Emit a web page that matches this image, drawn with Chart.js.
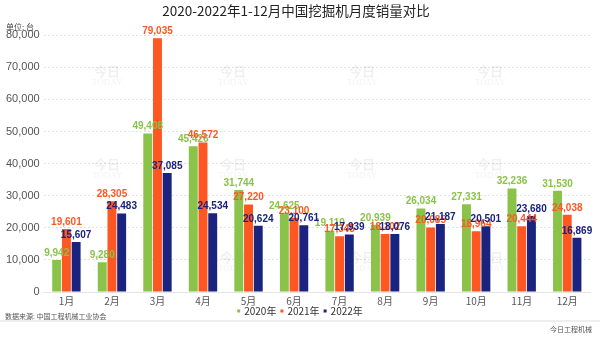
<!DOCTYPE html>
<html>
<head>
<meta charset="utf-8">
<script src="https://cdn.jsdelivr.net/npm/chart.js@4/dist/chart.umd.min.js"></script>
<style>
  html, body { margin: 0; padding: 0; background: #fff; }
  #wrap { width: 600px; height: 339px; position: relative; }
</style>
</head>
<body>
<div id="wrap"><canvas id="myChart" width="600" height="339"></canvas></div>
<script>
const months = ["1月", "2月", "3月", "4月", "5月", "6月", "7月", "8月", "9月", "10月", "11月", "12月"];
const sales2020 = [9942, 9280, 49408, 45426, 31744, 24625, 19110, 20939, 26034, 27331, 32236, 31530];
const sales2021 = [19601, 28305, 79035, 46572, 27220, 23100, 17345, 18102, 20085, 18964, 20444, 24038];
const sales2022 = [15607, 24483, 37085, 24534, 20624, 20761, 17939, 18076, 21187, 20501, 23680, 16869];
const yTicks = [0, 10000, 20000, 30000, 40000, 50000, 60000, 70000, 80000];

const FONT = "'Noto Sans CJK SC', 'Noto Sans', sans-serif";
const NARROW = "'Liberation Sans Narrow', 'Liberation Sans', sans-serif";

// value labels above each bar
const barLabels = {
  id: "barLabels",
  afterDatasetsDraw(chart) {
    const ctx = chart.ctx;
    ctx.save();
    ctx.font = "bold 10px " + NARROW;
    ctx.textAlign = "center";
    ctx.textBaseline = "bottom";
    chart.data.datasets.forEach((ds, i) => {
      chart.getDatasetMeta(i).data.forEach((bar, j) => {
        ctx.fillStyle = ds.backgroundColor;
        ctx.fillText(ds.data[j].toLocaleString("en-US"), bar.x, bar.y - 2);
      });
    });
    ctx.restore();
  }
};

// legend, unit, footer, faint watermarks
const extras = {
  id: "extras",
  beforeDatasetsDraw(chart) {
    const ctx = chart.ctx;
    ctx.save();
    ctx.fillStyle = "rgba(0,0,0,0.06)";
    ctx.textAlign = "left";
    ctx.textBaseline = "top";
    [92, 218, 347, 475].forEach(x => {
      [65, 158, 251].forEach(y => {
        ctx.font = "bold 13px " + FONT;
        ctx.fillText("今日", x + 2, y);
        ctx.font = "9px 'Liberation Serif', serif";
        ctx.fillText("TODAY", x, y + 13);
      });
    });
    ctx.restore();
  },
  afterDraw(chart) {
    const ctx = chart.ctx;
    ctx.save();
    // legend
    ctx.font = "10px " + FONT;
    ctx.textBaseline = "middle";
    ctx.textAlign = "left";
    const sets = chart.data.datasets;
    const widths = sets.map(ds => 7 + ctx.measureText(ds.label).width);
    const gap = 4;
    let x = 300 - (widths.reduce((a, b) => a + b, 0) + gap * (sets.length - 1)) / 2;
    sets.forEach((ds, i) => {
      ctx.fillStyle = ds.backgroundColor;
      ctx.fillRect(x, 309.5, 3, 3);
      ctx.fillStyle = "#333";
      ctx.fillText(ds.label, x + 7, 311);
      x += widths[i] + gap;
    });
    // unit + footer
    ctx.fillStyle = "#444";
    ctx.font = "8px " + FONT;
    ctx.fillText("单位: 台", 6, 27);
    ctx.font = "7px " + FONT;
    ctx.fillStyle = "#555";
    ctx.fillText("数据来源: 中国工程机械工业协会", 5, 316);
    ctx.textAlign = "right";
    ctx.fillText("今日工程机械", 592, 329);
    ctx.fillStyle = "#eeeeee";
    ctx.fillRect(0, 320, 600, 2);
    ctx.restore();
  }
};

new Chart(document.getElementById("myChart"), {
  type: "bar",
  data: {
    labels: months,
    datasets: [
      { label: "2020年", data: sales2020, backgroundColor: "#8bc34a" },
      { label: "2021年", data: sales2021, backgroundColor: "#ff5722" },
      { label: "2022年", data: sales2022, backgroundColor: "#1a237e" }
    ]
  },
  options: {
    responsive: false,
    animation: false,
    datasets: { bar: { categoryPercentage: 0.64, barPercentage: 0.92 } },
    layout: { padding: { left: 2, right: 10, top: 0, bottom: 29 } },
    plugins: {
      title: {
        display: true,
        text: "2020-2022年1-12月中国挖掘机月度销量对比",
        color: "#222",
        font: { family: FONT, size: 13.5, weight: "normal" },
        padding: { top: 3, bottom: 16 }
      },
      legend: { display: false },
      tooltip: { enabled: false }
    },
    scales: {
      x: {
        grid: { display: false, drawTicks: false },
        border: { color: "#e4e4e4" },
        ticks: { color: "#555", font: { family: FONT, size: 10 }, padding: 3 }
      },
      y: {
        min: 0,
        max: 80000,
        afterBuildTicks(axis) { axis.ticks = yTicks.map(v => ({ value: v })); },
        grid: { color: "#e2e2e2", drawTicks: false },
        border: { display: false, dash: [2, 2] },
        ticks: {
          color: "#555",
          font: { family: NARROW, size: 11 },
          padding: 4,
          callback: v => v.toLocaleString("en-US")
        }
      }
    }
  },
  plugins: [barLabels, extras]
});
</script>
</body>
</html>
